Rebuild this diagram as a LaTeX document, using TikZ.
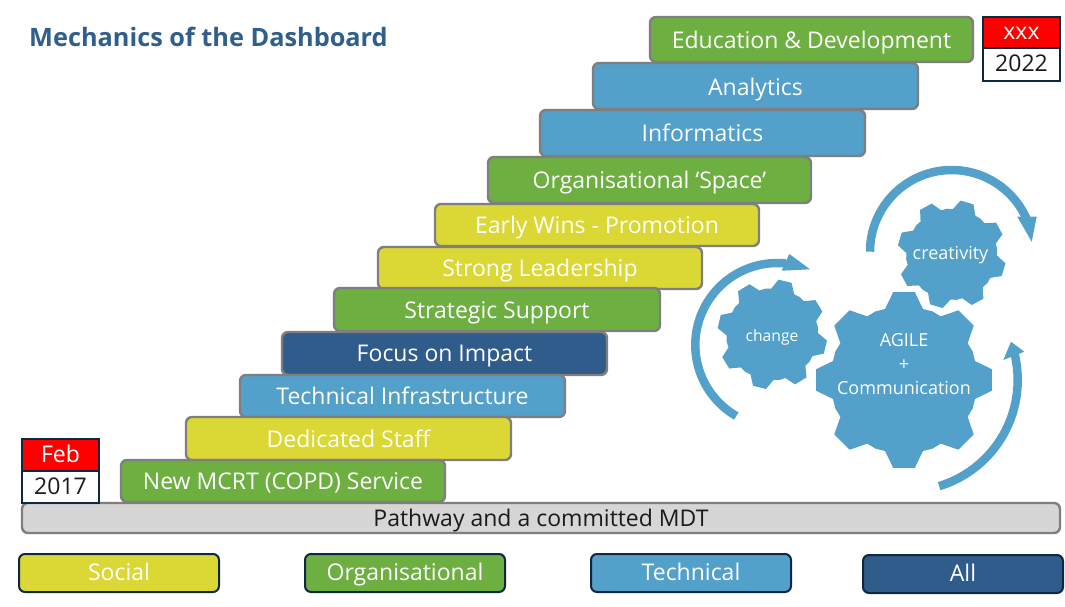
\documentclass[tikz,border=0pt]{standalone}
\usepackage{fontspec}
\setmainfont{Open Sans}
\definecolor{cyel}{HTML}{DBD734}
\definecolor{cgrn}{HTML}{6DAF40}
\definecolor{cblu}{HTML}{53A0CB}
\definecolor{cnav}{HTML}{2F5C8A}
\definecolor{cgry}{HTML}{D6D6D6}
\definecolor{cbrd}{HTML}{7F7F7F}
\definecolor{cdrk}{HTML}{0E2841}
\definecolor{ctitle}{HTML}{2F5F8A}
\definecolor{ctxt}{HTML}{1A1A1A}
\tikzset{
  bigtext/.style={font=\fontsize{23}{26}\selectfont,text height=18pt,text depth=1pt},
  stepbox/.style={draw=cbrd,line width=2.4pt,rounded corners=6pt,text=white,inner sep=0pt,bigtext},
  legendbox/.style={draw=cdrk,line width=2pt,rounded corners=6pt,text=white,inner sep=0pt,bigtext,text height=17pt,text depth=2pt},
  datebox/.style={draw=cdrk,line width=2.6pt,inner sep=0pt,bigtext,text height=17pt,text depth=3pt},
  gearlabel/.style={text=white,inner sep=0pt,align=center},
  turn/.style={draw=cblu,line width=8.5pt},
  head/.style={fill=cblu}
}
\newcommand\bx[7]{\node[#6,minimum width={(#4-#2)*1pt},minimum height={(#5-#3)*1pt}] (#1) at ({(#2+#4)/2},{(#3+#5)/2}) {#7};}
\newcommand\gearshape[4]{% cx cy R base
  \fill[cblu,line join=round] ({#1+#3*cos(#4-7)},{#2-#3*sin(#4-7)})
  \foreach \k in {0,...,7}{
    -- ({#1+#3*cos(#4+45*\k-7)},{#2-#3*sin(#4+45*\k-7)})
    -- ({#1+#3*cos(#4+45*\k+7)},{#2-#3*sin(#4+45*\k+7)})
    -- ({#1+.83*#3*cos(#4+45*\k+15)},{#2-.83*#3*sin(#4+45*\k+15)})
    -- ({#1+.84*#3*cos(#4+45*\k+22.5)},{#2-.84*#3*sin(#4+45*\k+22.5)})
    -- ({#1+.83*#3*cos(#4+45*\k+30)},{#2-.83*#3*sin(#4+45*\k+30)})
  } -- cycle;}
\newcommand\turnarc[5]{\draw[turn] plot[smooth,domain=#4:#5,samples=50] ({#1+#3*cos(\x)},{#2-#3*sin(\x)});}
\begin{document}
\begin{tikzpicture}[x=1pt,y=-1pt]
\useasboundingbox (0,0) rectangle (1065,606);
\fill[white] (0,0) rectangle (1065,606);
\node[text=ctitle,inner sep=0pt,font=\bfseries\fontsize{25.3}{28}\selectfont] (title) at (208.5,37) {Mechanics of the Dashboard};
\bx{edu}{650}{17}{973}{62}{stepbox,fill=cgrn}{Education \& Development}
\bx{ana}{593}{63}{918}{109}{stepbox,fill=cblu,text height=20pt}{Analytics}
\bx{inf}{540}{110}{865}{156}{stepbox,fill=cblu}{Informatics}
\bx{org}{488}{157}{811}{203}{stepbox,fill=cgrn}{Organisational ‘Space’}
\bx{early}{435}{204}{759}{246}{stepbox,fill=cyel}{Early Wins - Promotion}
\bx{lead}{378}{247}{702}{289}{stepbox,fill=cyel}{Strong Leadership}
\bx{strat}{334}{288}{660}{331}{stepbox,fill=cgrn}{Strategic Support}
\bx{focus}{282}{332}{607}{375}{stepbox,fill=cnav,text height=17pt}{Focus on Impact}
\bx{tech}{240}{375}{565}{417}{stepbox,fill=cblu}{Technical Infrastructure}
\bx{ded}{186}{417}{511}{460}{stepbox,fill=cyel}{Dedicated Staff}
\bx{path}{22}{503}{1060}{533}{stepbox,fill=cgry,text=ctxt}{Pathway and a committed MDT}
\bx{mcrt}{121}{460}{445}{502}{stepbox,fill=cgrn}{New MCRT (COPD) Service}
\bx{feb}{22}{439}{99}{471}{datebox,fill=red,text=white}{Feb}
\bx{y17}{22}{471}{99}{503}{datebox,fill=white,text=ctxt}{2017}
\bx{xxx}{983}{17}{1060}{48}{datebox,fill=red,text=white}{xxx}
\bx{y22}{983}{48}{1060}{81}{datebox,fill=white,text=ctxt}{2022}
\bx{soc}{19}{554}{219}{592}{legendbox,fill=cyel}{Social}
\bx{orga}{305}{554}{505}{592}{legendbox,fill=cgrn}{Organisational}
\bx{techn}{591}{554}{791}{592}{legendbox,fill=cblu}{Technical}
\bx{all}{863}{555}{1063}{593}{legendbox,fill=cnav}{All}
\gearshape{904}{380}{88.5}{0}
\gearshape{772.3}{334.3}{55}{31.5}
\gearshape{951.7}{254.3}{54.5}{28.5}
\node[gearlabel,font=\fontsize{18}{23.7}\selectfont] (agile) at (904,364) {AGILE\\+\\Communication};
\node[gearlabel,font=\fontsize{15.7}{18}\selectfont] (change) at (772,337.5) {change};
\node[gearlabel,font=\fontsize{18}{20}\selectfont] (creat) at (950.5,255.5) {creativity};
\turnarc{951.7}{251.7}{81.7}{180}{24}
\fill[head] (1031.7,241.7) -- (1017.3,216.7) -- (1036.7,216.7) -- cycle;
\turnarc{777.3}{345}{82}{240}{84}
\fill[head] (810,269.3) -- (789.3,254) -- (781.7,270.7) -- cycle;
\turnarc{906.7}{380}{111}{-73}{15}
\fill[head] (1011,341.7) -- (1003.3,360) -- (1024.3,351.7) -- cycle;
\end{tikzpicture}
\end{document}
